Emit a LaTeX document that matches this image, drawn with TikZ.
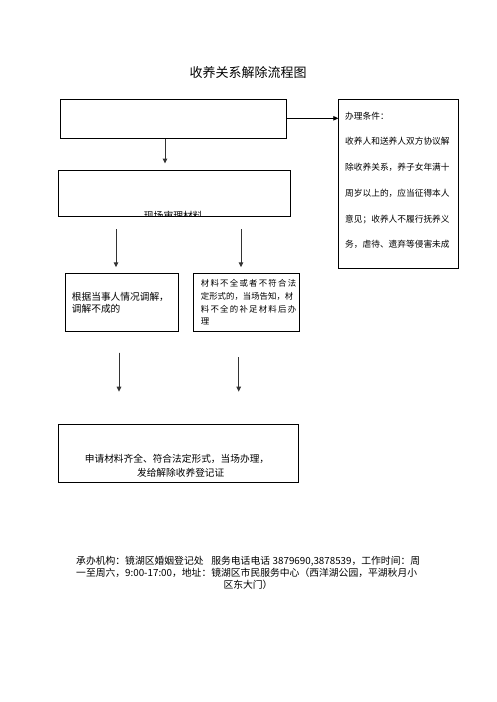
\documentclass[tikz,border=0pt]{standalone}
\usepackage{fontspec}
\setmainfont{Noto Sans CJK SC}
\usetikzlibrary{arrows.meta}
\begin{document}
\begin{tikzpicture}[x=1pt,y=-1pt,
  box/.style={draw=black, line width=0.8pt, inner sep=0pt, anchor=north west, fill=none},
  arr/.style={-{Triangle[length=5pt,width=4.5pt]}, line width=1pt, draw=black!80, fill=black!80},
  txt/.style={inner sep=0pt, anchor=west, font=\fontsize{9.7pt}{12pt}\selectfont},
  side/.style={inner sep=0pt, anchor=west, font=\fontsize{8.7pt}{10pt}\selectfont},
  small/.style={inner sep=0pt, anchor=west, font=\fontsize{8.4pt}{10pt}\selectfont},
  foot/.style={inner sep=0pt, font=\fontsize{9.8pt}{12pt}\selectfont}]
\useasboundingbox (0,0) rectangle (496,702);

% title
\node[inner sep=0pt, font=\fontsize{13pt}{15pt}\selectfont] (title) at (248,73) {收养关系解除流程图};

% boxes
\node[box, minimum width=225.7pt, minimum height=39pt] (b1) at (60,99.3) {};
\node[box, minimum width=232pt, minimum height=46pt] (b2) at (58.3,170.3) {};
\node[box, minimum width=120pt, minimum height=169pt] (cond) at (338.3,99.3) {};
\node[box, minimum width=112.4pt, minimum height=57.7pt] (b3) at (65.3,273.3) {};
\node[box, minimum width=106pt, minimum height=57.7pt] (b4) at (193.3,273.3) {};
\node[box, minimum width=240pt, minimum height=58pt] (b5) at (58.3,424.3) {};

% clipped text of box 2
\begin{scope}
  \clip (58.3,170.3) rectangle (290.3,216.3);
  \node[inner sep=0pt, font=\fontsize{9.8pt}{12pt}\selectfont] (b2t) at (173.3,215.5) {现场审理材料};
\end{scope}

% condition text
\node[side] (c0) at (345,115.7) {办理条件：};
\node[side] (c1) at (345,141.3) {收养人和送养人双方协议解};
\node[side] (c2) at (345,167.2) {除收养关系，养子女年满十};
\node[side] (c3) at (345,193.3) {周岁以上的，应当征得本人};
\node[side] (c4) at (345,219.3) {意见；收养人不履行抚养义};
\node[side] (c5) at (345,244.7) {务，虐待、遗弃等侵害未成};

% box 3 text
\node[txt] (t3a) at (71.7,296.7) {根据当事人情况调解，};
\node[txt] (t3b) at (71.7,309.3) {调解不成的};

% box 4 text
\node[small] (t4a) at (200.7,283.3) {\makebox[92pt][s]{材 料 不 全 或 者 不 符 合 法}};
\node[small] (t4b) at (200.7,296) {定形式的，当场告知，材};
\node[small] (t4c) at (200.7,309.3) {\makebox[92pt][s]{料 不 全 的 补 足 材 料 后 办}};
\node[small] (t4d) at (200.7,321.7) {理};

% box 5 text
\node[inner sep=0pt, font=\fontsize{9.7pt}{12pt}\selectfont] (t5a) at (177,459.3) {申请材料齐全、符合法定形式，当场办理，};
\node[inner sep=0pt, font=\fontsize{9.7pt}{12pt}\selectfont] (t5b) at (180.7,472.3) {发给解除收养登记证};

% connector coordinates
\coordinate (a1e) at (165,163.5);
\coordinate (a2s) at (116,229);
\coordinate (a2e) at (116,267.3);
\coordinate (a3s) at (241,229);
\coordinate (a3e) at (241,267.3);
\coordinate (a4s) at (119,352.7);
\coordinate (a4e) at (119,391.7);
\coordinate (a5s) at (238.7,357.3);
\coordinate (a5e) at (238.7,391.7);

\draw[arr] (b1.south -| a1e) -- (a1e);
\draw[arr, draw=black, fill=black, line width=0.8pt] (b1.east |- 0,118.3) -- (cond.west |- 0,118.3);
\draw[arr] (a2s) -- (a2e);
\draw[arr] (a3s) -- (a3e);
\draw[arr] (a4s) -- (a4e);
\draw[arr] (a5s) -- (a5e);

% footer
\node[foot, anchor=west] (f1) at (76,561) {\makebox[344pt][s]{承办机构：镜湖区婚姻登记处 \ \ 服务电话电话 3879690,3878539，工作时间：周}};
\node[foot, anchor=west] (f2) at (76,573.3) {\makebox[344pt][s]{一至周六，9:00-17:00，地址：镜湖区市民服务中心（西洋湖公园，平湖秋月小}};
\node[foot] (f3) at (248,585) {区东大门）};
\end{tikzpicture}
\end{document}
